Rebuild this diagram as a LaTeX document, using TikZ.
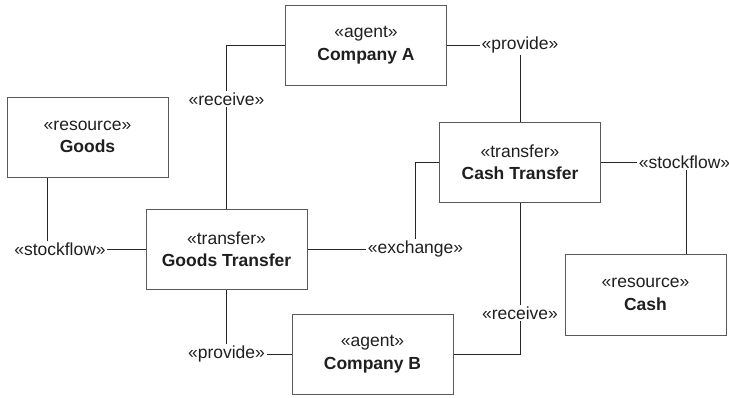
\documentclass[tikz,border=0pt]{standalone}
\usepackage{fontspec}
\setmainfont{Liberation Sans}
\begin{document}
\begin{tikzpicture}[x=1pt,y=-1pt,
  every node/.style={font=\fontsize{17.5pt}{22.5pt}\selectfont, text=black!88},
  box/.style={draw=black!65, line width=1pt, minimum width=161pt, minimum height=80pt, align=center, inner sep=0pt},
  lbl/.style={inner sep=1.5pt},
  conn/.style={draw=black!85, line width=1pt}]
\useasboundingbox (0,0) rectangle (729,397);
% boxes
\node[box] (compA) at (366,45) {«agent»\\\textbf{Company A}};
\node[box] (goods) at (87.5,137) {«resource»\\\textbf{Goods}};
\node[box] (goodsT) at (226.5,249) {«transfer»\\\textbf{Goods Transfer}};
\node[box] (compB) at (372.5,354) {«agent»\\\textbf{Company B}};
\node[box] (cashT) at (520,162) {«transfer»\\\textbf{Cash Transfer}};
\node[box, minimum height=81pt] (cash) at (645.5,294.5) {«resource»\\\textbf{Cash}};
% labels
\node[lbl] (recA) at (226.5,99) {«receive»};
\node[lbl] (provA) at (520,45) {«provide»};
\node[lbl] (stockC) at (684.5,162) {«stockflow»};
\node[lbl] (exch) at (415.5,249) {«exchange»};
\node[lbl] (stockG) at (60,249) {«stockflow»};
\node[lbl] (provB) at (226.5,354) {«provide»};
\node[lbl] (recB) at (520,313) {«receive»};
% connectors
\draw[conn] (compA.west) -| (recA.north);
\draw[conn] (recA.south) -- (goodsT.north);
\draw[conn] (compA.east) -- (provA.west);
\draw[conn] (provA.south) -- (cashT.north);
\draw[conn] (cashT.east) -- (stockC.west);
\draw[conn] ([xshift=1.5pt]stockC.south) -- ([xshift=1.5pt]stockC.south |- cash.north);
\draw[conn] (goodsT.east) -- (exch.west);
\draw[conn] (exch.north) |- (cashT.west);
\draw[conn] (goodsT.west) -- (stockG.east);
\draw[conn] ([xshift=-13pt]stockG.north) -- ([xshift=-13pt]stockG.north |- goods.south);
\draw[conn] (goodsT.south) -- (provB.north);
\draw[conn] (provB.east) -- (compB.west);
\draw[conn] (cashT.south) -- (recB.north);
\draw[conn] (recB.south) |- (compB.east);
\end{tikzpicture}
\end{document}
